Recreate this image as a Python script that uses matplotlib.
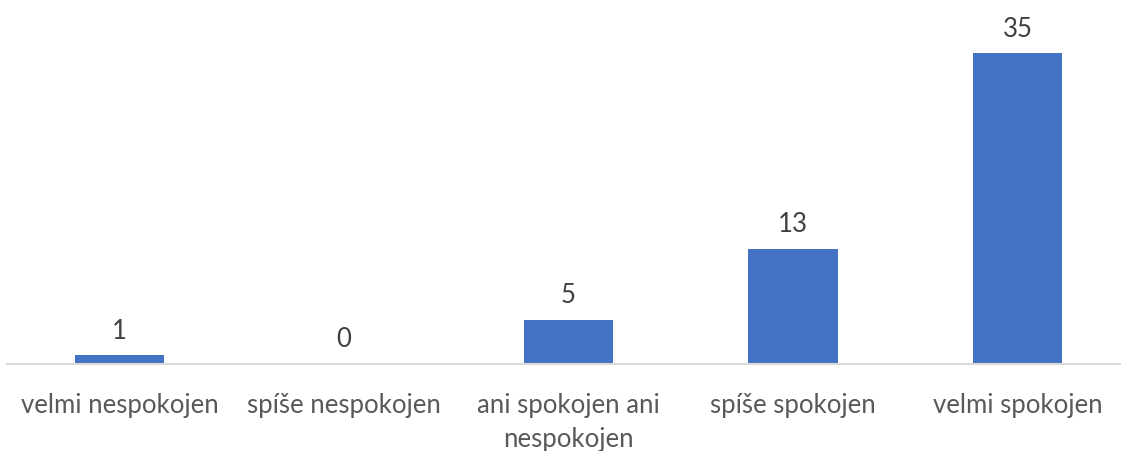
import matplotlib
matplotlib.use("Agg")
import matplotlib.pyplot as plt

categories = ["velmi nespokojen", "spíše nespokojen", "ani spokojen ani\nnespokojen",
              "spíše spokojen", "velmi spokojen"]
values = [1, 0, 5, 13, 35]

plt.rcParams['font.family'] = ['Lato', 'DejaVu Sans']

fig = plt.figure(figsize=(11.21, 4.51), dpi=100)
ax = fig.add_axes([7.25 / 1121, 1 - 364 / 451, 1122.5 / 1121, 355 / 451])

x = range(len(categories))
bars = ax.bar(x, values, width=0.40, color="#4472C4", zorder=2)
ax.set_xlim(-0.5, len(categories) - 0.5)
ax.set_ylim(0, 40)

for b, v in zip(bars, values):
    ax.text(b.get_x() + b.get_width() / 2, v + 1.3, str(v), ha="center", va="bottom",
            fontsize=18.5, color="#404040")

ax.set_xticks(list(x))
ax.set_xticklabels(categories, fontsize=18.5, color="#595959", linespacing=1.45, va="top")
ax.tick_params(axis="x", length=0, pad=21)
ax.set_yticks([])
for s in ["top", "right", "left"]:
    ax.spines[s].set_visible(False)
ax.spines["bottom"].set_color("#D9D9D9")
ax.spines["bottom"].set_linewidth(1.5)

fig.savefig("out.png", dpi=100)
